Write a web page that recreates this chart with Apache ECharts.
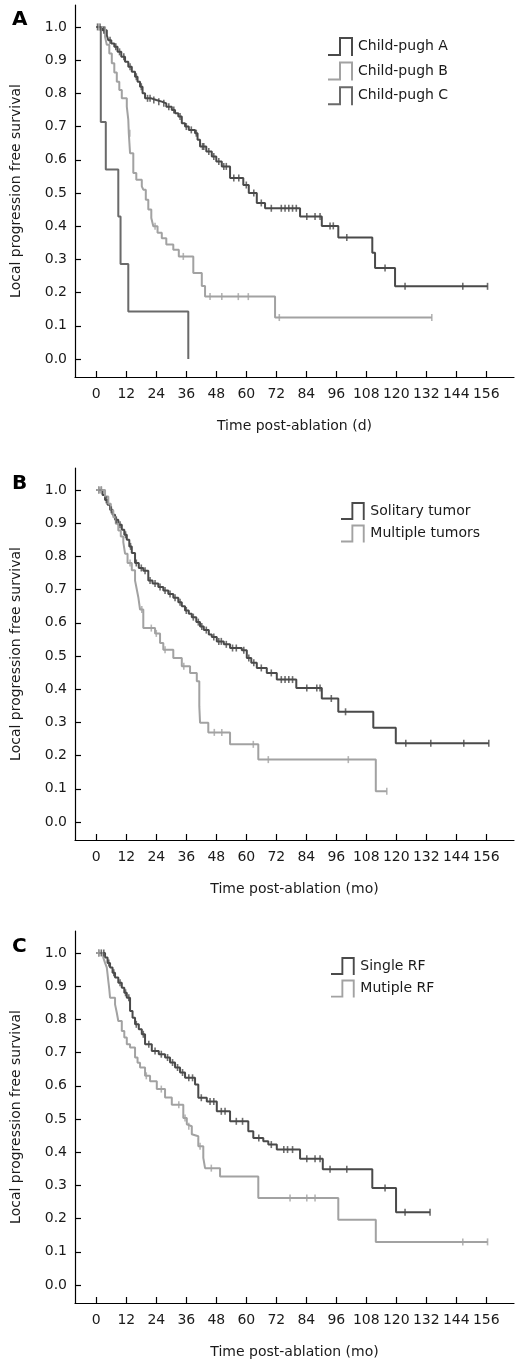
<!DOCTYPE html>
<html>
<head>
<meta charset="utf-8">
<script src="https://cdn.jsdelivr.net/npm/echarts@6/dist/echarts.min.js"></script>
<style>
html,body{margin:0;padding:0;background:#fff;}
#chart{width:523px;height:1369px;}
</style>
</head>
<body>
<div id="chart"></div>
<script>
// ---------- tick labels ----------
const xTicks = [0, 12, 24, 36, 48, 60, 72, 84, 96, 108, 120, 132, 144, 156];
const yTicks = [0, 0.1, 0.2, 0.3, 0.4, 0.5, 0.6, 0.7, 0.8, 0.9, 1.0];
const panelLetters = ['A', 'B', 'C'];
const xTitles = ['Time post-ablation (d)', 'Time post-ablation (mo)', 'Time post-ablation (mo)'];
const yTitle = 'Local progression free survival';

// ---------- Panel A : Child-pugh ----------
const cpA_names = ['Child-pugh A', 'Child-pugh B', 'Child-pugh C'];
const cpA_events = [[0,1.0],[2.5,0.99],[4.2,0.975],[4.8,0.96],[6,0.95],[7.2,0.94],[8.5,0.925],[10,0.91],[11.5,0.895],[12.8,0.88],[14.2,0.865],[15.5,0.85],[16.5,0.835],[17.5,0.82],[18.5,0.80],[19.5,0.785],[22,0.78],[24,0.775],[26.2,0.77],[28,0.76],[30.2,0.75],[31.5,0.74],[32.8,0.73],[34.2,0.71],[35.5,0.70],[37,0.69],[39.5,0.68],[40.5,0.66],[41.5,0.64],[44,0.625],[46.2,0.61],[48,0.595],[50.2,0.58],[53.5,0.545],[58.8,0.524],[61,0.50],[64.2,0.47],[67.5,0.454],[81.5,0.429],[90.2,0.401],[96.8,0.366],[110.4,0.32],[111.5,0.274],[119.5,0.219],[156.5,0.219]];
const cpA_censor = [0.5,1.5,3,5.5,7.8,9.3,11,13.5,16,18,20.5,21.5,23,25,27,29,31,33.5,36,38,40,42.5,43,45,47,49,51,52,55,57,60,63,66,70,74,75.5,77,78.5,80,84.2,87.5,89.5,93.5,94.8,100.2,115.5,123.5,146.6,156.5];
const cpB_events = [[0,1.0],[3.5,0.97],[4.2,0.946],[5.2,0.92],[6.2,0.891],[7.2,0.863],[8.2,0.835],[9.2,0.81],[10.2,0.785],[12.2,0.76],[12.8,0.72],[13,0.68],[13.5,0.62],[14.8,0.56],[16,0.54],[18.2,0.52],[18.8,0.51],[19.8,0.48],[20.8,0.45],[22,0.425],[22.8,0.40],[24.5,0.38],[26.2,0.364],[28,0.345],[30.8,0.329],[33,0.309],[38.8,0.259],[42.2,0.22],[43.5,0.188],[71.5,0.125],[134.2,0.125]];
const cpB_censor = [1,13.4,23.5,34.8,45.5,50.2,56.8,60.8,73.2,134.2];
const cpC_events = [[0,1.0],[1.8,0.714],[3.8,0.571],[8.8,0.429],[9.7,0.286],[12.8,0.143],[36.8,0.0]];
const cpC_censor = [];

// ---------- Panel B : tumor number ----------
const tum_names = ['Solitary tumor', 'Multiple tumors'];
const sol_events = [[0,1.0],[2.5,0.985],[3.5,0.97],[4.5,0.955],[5.5,0.94],[6.5,0.925],[7.5,0.91],[8.8,0.895],[10.2,0.88],[11.2,0.865],[12.2,0.85],[13.2,0.83],[14.2,0.81],[15.5,0.78],[17,0.765],[18.8,0.757],[20.8,0.727],[22.5,0.718],[24.8,0.708],[26.8,0.697],[28.8,0.687],[30.8,0.675],[32.8,0.662],[34.2,0.65],[35.5,0.637],[37,0.627],[38.2,0.617],[40,0.602],[41.5,0.589],[43,0.578],[45,0.565],[46.2,0.557],[48.2,0.544],[51,0.535],[53.5,0.524],[58.2,0.517],[60.2,0.494],[62,0.48],[64.2,0.464],[68.2,0.449],[72.2,0.429],[80,0.404],[90.2,0.372],[96.8,0.332],[110.8,0.284],[119.8,0.237],[157,0.237]];
const sol_censor = [1,2,4,6,8,9.5,11.7,13.7,16,18,19.5,21.5,23.5,25.5,27.5,29.5,31.5,33.5,36,38.8,40.8,42.2,44,47,49,50,52,54.5,56,59,61,63,66,70,74,75.5,77,78.5,84.2,88.2,89.5,94,99.7,123.8,133.8,147,157];
const mul_events = [[0,1.0],[3.5,0.98],[4.8,0.958],[5.8,0.938],[6.8,0.918],[7.8,0.898],[8.8,0.878],[9.8,0.86],[10.8,0.843],[11.5,0.808],[12.5,0.78],[14.2,0.758],[15.5,0.727],[16.2,0.70],[16.8,0.677],[17.5,0.64],[18.8,0.584],[23.5,0.568],[25.5,0.539],[26.8,0.519],[30.8,0.494],[34.2,0.469],[37.5,0.449],[40.2,0.424],[41.2,0.349],[41.5,0.299],[44.8,0.27],[53.5,0.234],[64.8,0.188],[111.8,0.093],[116.2,0.093]];
const mul_censor = [1,2,13.5,18.2,22,24,27.5,35,47.2,50.2,62.8,68.8,100.8,116.2];

// ---------- Panel C : RF sessions ----------
const rf_names = ['Single RF', 'Mutiple RF'];
const srf_events = [[0,1.0],[3.5,0.986],[4.5,0.97],[5.5,0.956],[6.5,0.94],[7.5,0.926],[8.8,0.91],[10.2,0.895],[11.2,0.88],[12.2,0.865],[13.5,0.825],[14.5,0.805],[15.5,0.785],[17,0.77],[18.2,0.755],[19.5,0.725],[22.2,0.705],[25,0.695],[27.5,0.685],[29.5,0.67],[31.5,0.655],[33.5,0.64],[35.5,0.624],[39.5,0.604],[40.8,0.564],[44.2,0.553],[48.2,0.523],[53.5,0.493],[60.8,0.463],[62.8,0.443],[66.8,0.433],[68.8,0.423],[72.2,0.408],[81.5,0.38],[90.6,0.349],[110.4,0.292],[119.9,0.219],[133.5,0.219]];
const srf_censor = [1,2,3,5,7,9.5,11.7,13,16,18.8,21,23.5,26,28.5,30.5,32.5,34.5,37,38.5,42,45.5,47,50,51.5,56,58.5,65,70,75,76.5,78.5,84.2,87.5,89.5,93.5,100.2,115.5,123.5,133.5];
const mrf_events = [[0,1.0],[2.8,0.986],[3.5,0.97],[4.2,0.956],[4.5,0.936],[4.8,0.916],[5.2,0.89],[5.5,0.865],[7.5,0.845],[8.2,0.82],[8.8,0.795],[10.2,0.765],[11.2,0.745],[12.2,0.725],[13.5,0.715],[15.5,0.685],[16.5,0.669],[17.5,0.655],[19.5,0.63],[21.5,0.614],[24.2,0.59],[27.5,0.565],[30.2,0.543],[34.8,0.503],[36.2,0.484],[36.8,0.478],[38.2,0.454],[38.8,0.448],[40.8,0.418],[42.8,0.383],[43.5,0.352],[49.5,0.327],[64.8,0.262],[96.8,0.197],[111.8,0.13],[156.5,0.13]];
const mrf_censor = [1,20,26,33,35.5,37,41.5,46,77.5,84.2,87.5,146.6,156.5];

// ---------- styling ----------
const DARK = '#4a4a4a', LIGHT = '#a2a2a2', MID = '#6a6a6a';
const FONT = 'DejaVu Sans';
const LEG_ICON = 'path://M0,17h12v2h-12z M11,0h2v19h-2z M11,0h13v2h-13z M23,0h2v19h-2z';

const panels = [
  { top: 5,   curves: [[cpA_names[0], cpA_events, cpA_censor, DARK], [cpA_names[1], cpB_events, cpB_censor, LIGHT], [cpA_names[2], cpC_events, cpC_censor, MID]],
    legend: { left: 328, top: 37, gap: 5.6, h: 19 } },
  { top: 468, curves: [[tum_names[0], sol_events, sol_censor, DARK], [tum_names[1], mul_events, mul_censor, LIGHT]],
    legend: { left: 341, top: 502, gap: 4.5, h: 18 } },
  { top: 931, curves: [[rf_names[0], srf_events, srf_censor, DARK], [rf_names[1], mrf_events, mrf_censor, LIGHT]],
    legend: { left: 331, top: 957, gap: 4.6, h: 18 } }
];

function survAt(events, t) {
  let s = events[0][1];
  for (const e of events) { if (e[0] <= t) s = e[1]; else break; }
  return s;
}

const grids = [], xAxes = [], yAxes = [], series = [], legends = [], titles = [];
const letterTops = [5, 469, 932];
panels.forEach((p, i) => {
  grids.push({ left: 75, top: p.top, width: 439, height: 372, outerBoundsMode: 'none', containLabel: false });
  xAxes.push({
    type: 'value', gridIndex: i, min: -8.52, max: 167.08,
    name: xTitles[i], nameLocation: 'middle', nameGap: 42,
    nameTextStyle: { fontFamily: FONT, fontSize: 14, color: '#1a1a1a' },
    axisLine: { show: true, onZero: false, lineStyle: { color: '#000', width: 1.2 } },
    axisTick: { show: true, inside: true, length: 6, customValues: xTicks, lineStyle: { color: '#000', width: 1.2 } },
    axisLabel: { customValues: xTicks, margin: 10, fontFamily: FONT, fontSize: 14, color: '#1a1a1a' },
    splitLine: { show: false }
  });
  yAxes.push({
    type: 'value', gridIndex: i, min: -0.054, max: 1.066,
    name: yTitle, nameLocation: 'middle', nameGap: 52,
    nameTextStyle: { fontFamily: FONT, fontSize: 14, color: '#1a1a1a' },
    axisLine: { show: true, onZero: false, lineStyle: { color: '#000', width: 1.2 } },
    axisTick: { show: true, inside: true, length: 6, customValues: yTicks, lineStyle: { color: '#000', width: 1.2 } },
    axisLabel: { customValues: yTicks, margin: 8, fontFamily: FONT, fontSize: 14, color: '#1a1a1a', formatter: v => v.toFixed(1) },
    splitLine: { show: false }
  });
  p.curves.forEach(c => {
    const [name, ev, cen, color] = c;
    series.push({
      type: 'line', name: name, xAxisIndex: i, yAxisIndex: i, step: 'end',
      data: ev, symbol: 'none', lineStyle: { color: color, width: 2 }, itemStyle: { color: color },
      silent: true, z: 2
    });
    series.push({
      type: 'scatter', name: name + ' censored', xAxisIndex: i, yAxisIndex: i,
      data: cen.map(t => [t, survAt(ev, t)]), symbol: 'rect', symbolSize: [1.6, 7],
      itemStyle: { color: color }, silent: true, z: 3
    });
  });
  legends.push({
    orient: 'vertical', left: p.legend.left, top: p.legend.top, itemGap: p.legend.gap,
    itemWidth: 25, itemHeight: p.legend.h, icon: LEG_ICON, padding: 0,
    itemStyle: { borderWidth: 0 },
    selectedMode: false,
    textStyle: { fontFamily: FONT, fontSize: 14, color: '#1a1a1a' },
    data: p.curves.map(c => c[0])
  });
  titles.push({ text: panelLetters[i], left: 7, top: letterTops[i], textStyle: { fontFamily: FONT, fontSize: 20, fontWeight: 'bold', color: '#000' } });
});

const chart = echarts.init(document.getElementById('chart'), null, { renderer: 'canvas' });
chart.setOption({
  backgroundColor: '#fff',
  animation: false,
  title: titles,
  grid: grids,
  xAxis: xAxes,
  yAxis: yAxes,
  legend: legends,
  series: series
});
</script>
</body>
</html>
